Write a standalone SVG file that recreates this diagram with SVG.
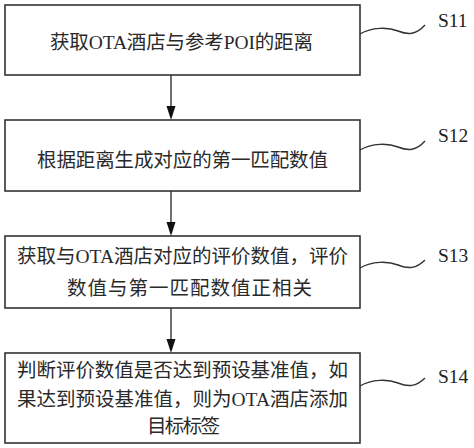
<svg xmlns="http://www.w3.org/2000/svg" width="474" height="448" viewBox="0 0 474 448">
<style>
.box{fill:#fff;stroke:#333;stroke-width:1.6}
.t{font-family:"Liberation Serif","Noto Sans CJK SC",serif;font-size:19.5px;fill:#2a2a2a}
.lbl{font-family:"Liberation Serif","Noto Sans CJK SC",serif;font-size:19.5px;fill:#222}
.sq{fill:none;stroke:#333;stroke-width:1.4}
.ar{stroke:#333;stroke-width:1.4;fill:none}
.ah{fill:#111}
</style>
<rect width="474" height="448" fill="#fff"/>
<g id="connectors">
<line class="ar" x1="171" y1="75" x2="171" y2="106"/>
<path class="ah" d="M166.5,106 L175.5,106 L171,120 Z"/>
<line class="ar" x1="171" y1="191" x2="171" y2="222"/>
<path class="ah" d="M166.5,222 L175.5,222 L171,236 Z"/>
<line class="ar" x1="171" y1="308" x2="171" y2="339"/>
<path class="ah" d="M166.5,339 L175.5,339 L171,353 Z"/>
</g>
<g id="s11">
<rect class="box" x="5" y="5" width="355" height="70"/>
<text class="t" x="50" y="49" textLength="263" lengthAdjust="spacing">获取OTA酒店与参考POI的距离</text>
<path class="sq" d="M360,34 C372,27 388,27 398,31 C408,35 416,35 425,25"/>
<text class="lbl" x="438" y="27">S11</text>
</g>
<g id="s12">
<rect class="box" x="5" y="120" width="355" height="71"/>
<text class="t" x="37" y="167" textLength="291" lengthAdjust="spacing">根据距离生成对应的第一匹配数值</text>
<path class="sq" d="M360,150 C372,143 388,143 398,147 C408,151 416,151 425,141"/>
<text class="lbl" x="438" y="142">S12</text>
</g>
<g id="s13">
<rect class="box" x="5" y="236" width="355" height="72"/>
<text class="t" x="17" y="262.5" textLength="331" lengthAdjust="spacing">获取与OTA酒店对应的评价数值，评价</text>
<text class="t" x="67" y="295" textLength="245" lengthAdjust="spacing">数值与第一匹配数值正相关</text>
<path class="sq" d="M360,268 C372,261 388,261 398,265 C408,269 416,269 425,260"/>
<text class="lbl" x="438" y="262">S13</text>
</g>
<g id="s14">
<rect class="box" x="5" y="353" width="355" height="90"/>
<text class="t" x="17" y="377" textLength="331" lengthAdjust="spacing">判断评价数值是否达到预设基准值，如</text>
<text class="t" x="17" y="406" textLength="331" lengthAdjust="spacing">果达到预设基准值，则为OTA酒店添加</text>
<text class="t" x="147" y="433" textLength="73" lengthAdjust="spacing">目标标签</text>
<path class="sq" d="M360,386 C372,379 388,379 398,383 C408,387 416,387 425,378"/>
<text class="lbl" x="438" y="383">S14</text>
</g>
</svg>
